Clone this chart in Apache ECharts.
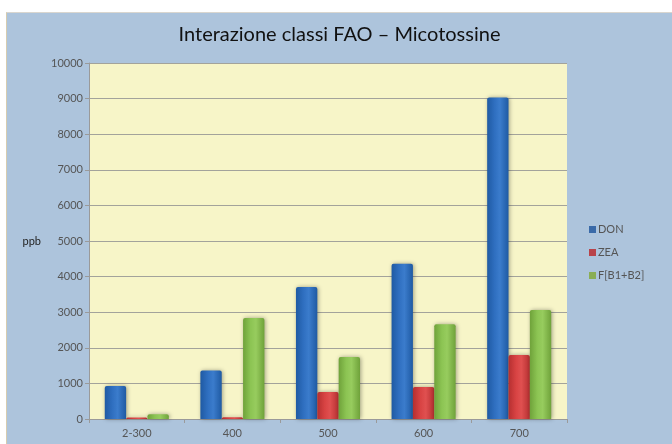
<!DOCTYPE html>
<html>
<head>
<meta charset="utf-8">
<script src="https://cdn.jsdelivr.net/npm/echarts@6/dist/echarts.min.js"></script>
<style>
html,body{margin:0;padding:0;background:#fff;}
#wrap{position:relative;width:672px;height:444px;background:#fff;overflow:hidden;}
#chart{position:absolute;left:6px;top:12px;width:666px;height:432px;background:#adc4dc;border-left:1px solid #d6ccb0;border-top:1px solid #d9d6cf;box-sizing:border-box;}
</style>
</head>
<body>
<div id="wrap"><div id="chart"></div></div>
<script>
const categories = ['2-300', '400', '500', '600', '700'];
const seriesNames = ['DON', 'ZEA', 'F[B1+B2]'];
const donValues = [925, 1360, 3710, 4360, 9030];
const zeaValues = [45, 50, 760, 900, 1800];
const fumValues = [130, 2840, 1740, 2660, 3060];
const yTicks = [0, 1000, 2000, 3000, 4000, 5000, 6000, 7000, 8000, 9000, 10000];

function grad(dark, mid, light) {
  return new echarts.graphic.LinearGradient(0, 0, 1, 0, [
    {offset: 0, color: dark},
    {offset: 0.35, color: mid},
    {offset: 0.6, color: light},
    {offset: 1, color: dark}
  ]);
}
const colors = [
  grad('#1f5aa3', '#2f6fc0', '#3b7ccc'),
  grad('#b52f30', '#d84343', '#e05050'),
  grad('#6fa23a', '#8cc453', '#97cc5e')
];
const legendColors = ['#3a6aa8', '#b8434a', '#8aae55'];
const values = [donValues, zeaValues, fumValues];

const chart = echarts.init(document.getElementById('chart'), null, {renderer: 'canvas'});
const font = 'Lato, "DejaVu Sans", sans-serif';
chart.setOption({
  animation: false,
  textStyle: {fontFamily: font},
  title: {
    text: 'Interazione classi FAO \u2013 Micotossine',
    left: 'center',
    top: 7,
    textStyle: {fontFamily: font, fontSize: 20, fontWeight: 'normal', color: '#111'}
  },
  legend: {
    orient: 'vertical',
    left: 577,
    top: 206,
    itemWidth: 7,
    itemHeight: 7,
    itemGap: 12,
    icon: 'rect',
    textStyle: {fontFamily: font, fontSize: 11, color: '#555', padding: [0, 0, 0, -3]},
    data: seriesNames.map((n, i) => ({name: n, itemStyle: {color: legendColors[i]}}))
  },
  grid: {left: 82, top: 50, width: 478, height: 356, show: true, backgroundColor: '#f7f5c8', borderWidth: 0},
  xAxis: {
    type: 'category',
    data: categories,
    axisLine: {lineStyle: {color: '#9a9a9a'}},
    axisTick: {show: true, length: 4, lineStyle: {color: '#9a9a9a'}},
    axisLabel: {fontFamily: font, fontSize: 11, color: '#555', margin: 9}
  },
  yAxis: {
    type: 'value',
    min: 0,
    max: 10000,
    interval: 1000,
    name: 'ppb',
    nameLocation: 'middle',
    nameRotate: 0,
    nameGap: 48,
    nameTextStyle: {fontFamily: font, fontSize: 11, color: '#222'},
    axisLine: {show: true, lineStyle: {color: '#9a9a9a'}},
    axisTick: {show: true, length: 4, lineStyle: {color: '#9a9a9a'}},
    axisLabel: {fontFamily: font, fontSize: 11, color: '#555', margin: 6,
      formatter: v => yTicks.includes(v) ? String(v) : ''},
    splitLine: {lineStyle: {color: '#a3a39b', width: 1}}
  },
  series: seriesNames.map((n, i) => ({
    name: n,
    type: 'bar',
    data: values[i],
    barGap: '0%',
    barCategoryGap: '33%',
    itemStyle: {
      color: colors[i],
      shadowBlur: 4,
      shadowColor: 'rgba(0,0,0,0.35)',
      shadowOffsetX: 1,
      shadowOffsetY: 0,
      borderRadius: [2, 2, 0, 0]
    }
  }))
});
</script>
</body>
</html>
